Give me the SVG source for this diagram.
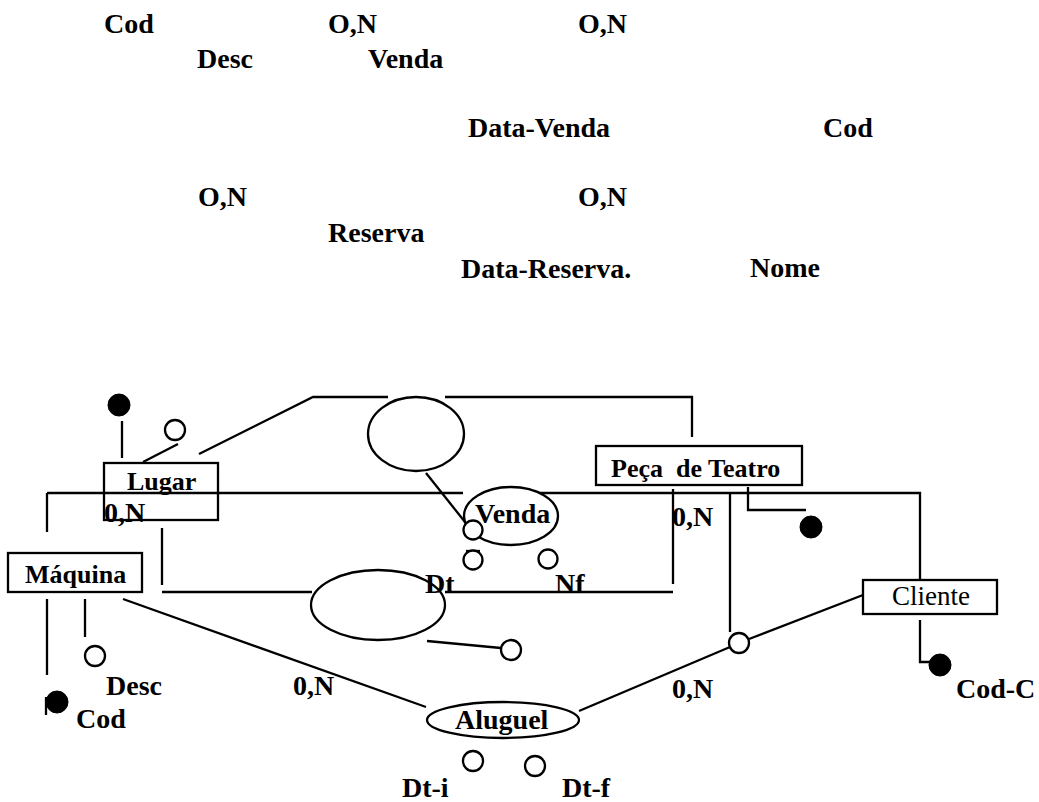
<svg xmlns="http://www.w3.org/2000/svg" width="1039" height="802" viewBox="0 0 1039 802">
<style>
.t{font-family:"Liberation Serif","Times New Roman",serif;font-weight:bold;font-size:28px;fill:#000}
.b{font-family:"Liberation Serif","Times New Roman",serif;font-weight:bold;font-size:26px;fill:#000}
.r{font-family:"Liberation Serif","Times New Roman",serif;font-size:27px;fill:#000}
.ln{stroke:#000;stroke-width:2.3;fill:none}
.sh{stroke:#000;stroke-width:2.3;fill:#fff}
.dot{fill:#000;stroke:#000;stroke-width:1}
</style>
<rect width="1039" height="802" fill="#fff"/>
<g id="notes">
<text class="t" x="104" y="33">Cod</text>
<text class="t" x="328" y="33">O,N</text>
<text class="t" x="578" y="33">O,N</text>
<text class="t" x="197" y="68">Desc</text>
<text class="t" x="368" y="68">Venda</text>
<text class="t" x="468" y="137">Data-Venda</text>
<text class="t" x="823" y="137">Cod</text>
<text class="t" x="198" y="206">O,N</text>
<text class="t" x="578" y="206">O,N</text>
<text class="t" x="328" y="242">Reserva</text>
<text class="t" x="461" y="278">Data-Reserva.</text>
<text class="t" x="750" y="277">Nome</text>
</g>
<g id="connectors">
<line class="ln" x1="122" y1="421" x2="122" y2="458"/>
<line class="ln" x1="143" y1="462" x2="178" y2="444"/>
<polyline class="ln" points="199,454 313,397 388,397"/>
<polyline class="ln" points="445,397 692,397 692,437"/>
<line class="ln" x1="426" y1="473" x2="465" y2="522"/>
<line class="ln" x1="47" y1="493" x2="463" y2="493"/>
<line class="ln" x1="47" y1="493" x2="47" y2="532"/>
<polyline class="ln" points="540,493 920,493 920,582"/>
<line class="ln" x1="162" y1="528" x2="162" y2="585"/>
<line class="ln" x1="162" y1="592" x2="312" y2="592"/>
<line class="ln" x1="445" y1="592" x2="673" y2="592"/>
<line class="ln" x1="673" y1="489" x2="673" y2="584"/>
<line class="ln" x1="427" y1="641" x2="501" y2="648"/>
<line class="ln" x1="123" y1="599" x2="426" y2="707"/>
<line class="ln" x1="47" y1="599" x2="47" y2="675"/>
<line class="ln" x1="85" y1="599" x2="85" y2="637"/>
<line class="ln" x1="46" y1="697" x2="46" y2="715"/>
<line class="ln" x1="730" y1="493" x2="730" y2="632"/>
<polyline class="ln" points="748,487 748,510 806,510"/>
<line class="ln" x1="863" y1="595" x2="749" y2="639"/>
<line class="ln" x1="730" y1="647" x2="579" y2="711"/>
<polyline class="ln" points="920,620 920,662 930,662"/>
<line class="ln" x1="466" y1="551" x2="480" y2="551"/>
</g>
<g id="ellipse-top"><ellipse class="sh" cx="416" cy="434" rx="48" ry="37"/></g>
<g id="ellipse-mid"><ellipse class="sh" cx="378" cy="605" rx="67" ry="35"/></g>
<g id="lugar"><rect class="ln" x="104" y="463" width="114" height="57"/><text class="b" x="127" y="490">Lugar</text></g>
<g id="lugar-card"><text class="t" x="104" y="522">0,N</text></g>
<g id="maquina"><rect class="sh" x="8" y="553" width="134" height="39"/><text class="b" x="25" y="583">Máquina</text></g>
<g id="peca"><rect class="sh" x="596" y="446" width="206" height="39"/><text class="b" x="611" y="477" xml:space="preserve">Peça  de Teatro</text></g>
<g id="cliente"><rect class="sh" x="863" y="580" width="134" height="34"/><text class="r" x="892" y="605">Cliente</text></g>
<g id="venda"><ellipse class="ln" cx="511" cy="516" rx="47" ry="29"/><text class="t" x="475" y="523">Venda</text></g>
<g id="aluguel"><ellipse class="sh" cx="503" cy="720" rx="76" ry="18"/><text class="t" x="455" y="729">Aluguel</text></g>
<g id="attributes">
<circle class="dot" cx="119" cy="405" r="11"/>
<circle class="sh" cx="175" cy="430" r="10"/>
<circle class="sh" cx="473" cy="530" r="9.5"/>
<circle class="sh" cx="473" cy="560" r="9.5"/>
<circle class="sh" cx="548" cy="559" r="9.5"/>
<circle class="sh" cx="511" cy="650" r="10"/>
<circle class="sh" cx="95" cy="656" r="10"/>
<circle class="dot" cx="57" cy="702" r="11"/>
<circle class="sh" cx="473" cy="761" r="10"/>
<circle class="sh" cx="535" cy="766" r="10"/>
<circle class="sh" cx="739" cy="643" r="10"/>
<circle class="dot" cx="811" cy="527" r="11"/>
<circle class="dot" cx="940" cy="665" r="11"/>
<text class="t" x="425" y="593">Dt</text>
<text class="t" x="555" y="593">Nf</text>
<text class="t" x="672" y="526">0,N</text>
<text class="t" x="106" y="695">Desc</text>
<text class="t" x="293" y="695">0,N</text>
<text class="t" x="76" y="728">Cod</text>
<text class="t" x="672" y="698">0,N</text>
<text class="t" x="956" y="698">Cod-C</text>
<text class="t" x="402" y="797">Dt-i</text>
<text class="t" x="562" y="797">Dt-f</text>
</g>
</svg>
